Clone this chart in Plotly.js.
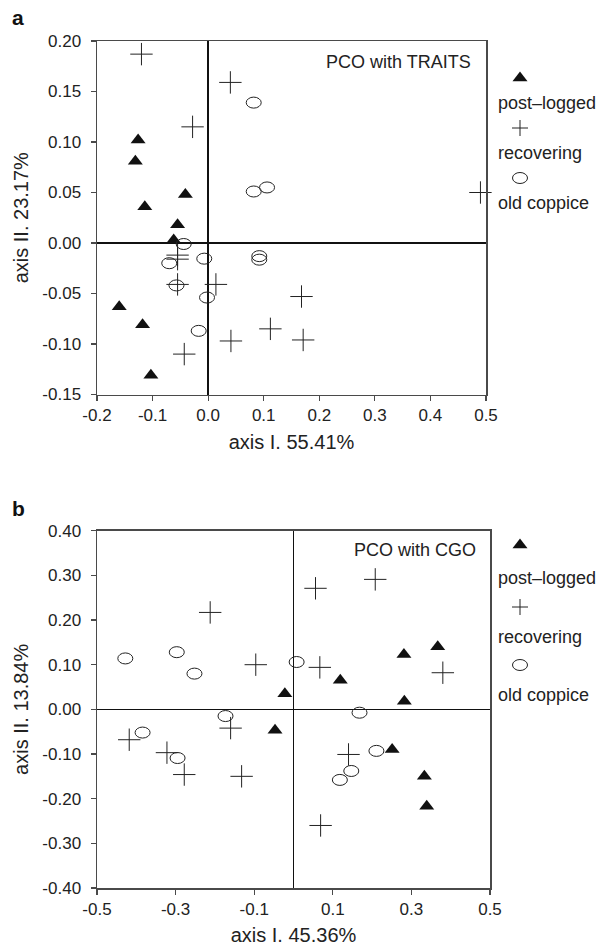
<!DOCTYPE html>
<html>
<head>
<meta charset="utf-8">
<script src="https://cdn.plot.ly/plotly-3.0.1.min.js"></script>
<style>
html,body{margin:0;padding:0;background:#fff;}
#chart{width:612px;height:950px;}
</style>
</head>
<body>
<div id="chart"></div>
<script>
// ---------- Panel a: PCO with TRAITS ----------
const aPostX = [-0.126,-0.131,-0.041,-0.114,-0.055,-0.062,-0.160,-0.118,-0.103];
const aPostY = [0.102,0.081,0.048,0.036,0.018,0.003,-0.063,-0.081,-0.131];
const aRecX  = [-0.120,0.040,-0.028,0.490,-0.055,-0.055,-0.055,0.014,0.112,0.041,-0.043,0.168,0.171];
const aRecY  = [0.187,0.159,0.115,0.050,-0.012,-0.016,-0.041,-0.041,-0.085,-0.097,-0.110,-0.053,-0.096];
const aOldX  = [0.082,0.082,0.106,-0.044,-0.070,-0.007,0.092,0.092,-0.057,-0.002,-0.017];
const aOldY  = [0.139,0.051,0.055,-0.001,-0.020,-0.0155,-0.013,-0.0165,-0.042,-0.054,-0.087];

// ---------- Panel b: PCO with CGO ----------
const bPostX = [-0.022,-0.047,0.119,0.281,0.367,0.282,0.251,0.333,0.339];
const bPostY = [0.035,-0.047,0.065,0.123,0.140,0.018,-0.090,-0.150,-0.217];
const bRecX  = [-0.212,-0.096,-0.160,-0.418,-0.322,-0.278,-0.132,0.056,0.208,0.067,0.380,0.140,0.069];
const bRecY  = [0.217,0.100,-0.042,-0.068,-0.097,-0.146,-0.150,0.271,0.291,0.094,0.082,-0.101,-0.260];
const bOldX  = [-0.428,-0.297,-0.252,0.008,-0.173,-0.384,-0.295,0.168,0.211,0.147,0.118];
const bOldY  = [0.114,0.128,0.080,0.106,-0.015,-0.052,-0.109,-0.0075,-0.093,-0.138,-0.158];

// ---------- ticks ----------
const aXTicks  = [-0.2,-0.1,0.0,0.1,0.2,0.3,0.4,0.5];
const aXLabels = ["-0.2","-0.1","0.0","0.1","0.2","0.3","0.4","0.5"];
const aYTicks  = [-0.15,-0.10,-0.05,0.00,0.05,0.10,0.15,0.20];
const aYLabels = ["-0.15","-0.10","-0.05","0.00","0.05","0.10","0.15","0.20"];
const bXTicks  = [-0.5,-0.3,-0.1,0.1,0.3,0.5];
const bXLabels = ["-0.5","-0.3","-0.1","0.1","0.3","0.5"];
const bYTicks  = [-0.4,-0.3,-0.2,-0.1,0.0,0.1,0.2,0.3,0.4];
const bYLabels = ["-0.40","-0.30","-0.20","-0.10","0.00","0.10","0.20","0.30","0.40"];

const groupNames = ["post\u2013logged","recovering","old coppice"];
const panelTitles = ["PCO with TRAITS","PCO with CGO"];
const axisTitles = {ax:"axis I. 55.41%", ay:"axis II. 23.17%", bx:"axis I. 45.36%", by:"axis II. 13.84%"};

// ---------- layout geometry (pixels) ----------
const W = 612, H = 950;
const M = {l:97, r:122, t:41, b:62};
const PW = W - M.l - M.r, PH = H - M.t - M.b;
const px2x = p => (p - M.l) / PW;
const px2y = p => (H - M.b - p) / PH;

const FONT = "Liberation Sans, Arial, Helvetica, sans-serif";
const INK = "#222";
const FRAME = "#4a4a4a";

const triStyle = {symbol:"triangle-up", size:13, color:"#111", line:{width:0}};
const plusStyle = {symbol:"cross-thin", size:16, color:INK, line:{width:1, color:INK}};

const traces = [
  {type:"scatter", mode:"markers", x:aPostX, y:aPostY, xaxis:"x", yaxis:"y", name:groupNames[0], marker:triStyle, cliponaxis:false},
  {type:"scatter", mode:"markers", x:aRecX, y:aRecY, xaxis:"x", yaxis:"y", name:groupNames[1], marker:plusStyle, cliponaxis:false},
  {type:"scatter", mode:"markers", x:aOldX, y:aOldY, xaxis:"x", yaxis:"y", name:groupNames[2], marker:{symbol:"circle", size:12, color:"rgba(0,0,0,0)"}, hoverinfo:"x+y+name"},
  {type:"scatter", mode:"markers", x:bPostX, y:bPostY, xaxis:"x2", yaxis:"y2", name:groupNames[0], marker:triStyle, cliponaxis:false},
  {type:"scatter", mode:"markers", x:bRecX, y:bRecY, xaxis:"x2", yaxis:"y2", name:groupNames[1], marker:plusStyle, cliponaxis:false},
  {type:"scatter", mode:"markers", x:bOldX, y:bOldY, xaxis:"x2", yaxis:"y2", name:groupNames[2], marker:{symbol:"circle", size:12, color:"rgba(0,0,0,0)"}, hoverinfo:"x+y+name"}
];

// ellipses for old coppice (drawn through data scales, pixel-sized)
const shapes = [];
function addEllipses(xs, ys, xr, yr) {
  xs.forEach((v, i) => {
    shapes.push({type:"circle", xref:xr, yref:yr, xsizemode:"pixel", ysizemode:"pixel",
      xanchor:v, yanchor:ys[i], x0:-7.5, x1:7.5, y0:-5.5, y1:5.5,
      line:{color:INK, width:1}, fillcolor:"rgba(0,0,0,0)", layer:"above"});
  });
}
addEllipses(aOldX, aOldY, "x", "y");
addEllipses(bOldX, bOldY, "x2", "y2");

// custom legends (symbol above label)
const annotations = [];
function addLegend(symX, textX, rows) {
  const ax = px2x(symX);
  shapes.push({type:"path", xref:"paper", yref:"paper", xsizemode:"pixel", ysizemode:"pixel",
    xanchor:ax, yanchor:px2y(rows[0]), path:"M-7.5,-3.25 L7.5,-3.25 L0,6.5 Z",
    fillcolor:"#111", line:{width:0}});
  shapes.push({type:"line", xref:"paper", yref:"paper", xsizemode:"pixel", ysizemode:"pixel",
    xanchor:ax, yanchor:px2y(rows[2]), x0:-8, x1:8, y0:0, y1:0, line:{color:INK, width:1}});
  shapes.push({type:"line", xref:"paper", yref:"paper", xsizemode:"pixel", ysizemode:"pixel",
    xanchor:ax, yanchor:px2y(rows[2]), x0:0, x1:0, y0:-8, y1:8, line:{color:INK, width:1}});
  shapes.push({type:"circle", xref:"paper", yref:"paper", xsizemode:"pixel", ysizemode:"pixel",
    xanchor:ax, yanchor:px2y(rows[4]), x0:-7.5, x1:7.5, y0:-5.5, y1:5.5,
    line:{color:INK, width:1}, fillcolor:"rgba(0,0,0,0)"});
  [1,3,5].forEach((r, k) => {
    annotations.push({xref:"paper", yref:"paper", x:px2x(textX), y:px2y(rows[r]),
      xanchor:"left", yanchor:"middle", showarrow:false, text:groupNames[k],
      font:{family:FONT, size:18, color:INK}});
  });
}
addLegend(520, 496, [78,103,128,153,178,203]);
addLegend(520, 496, [545,578,607,637,665,695]);

// panel titles inside plots
annotations.push({xref:"paper", yref:"paper", x:px2x(473), y:px2y(62), xanchor:"right", yanchor:"middle",
  showarrow:false, text:panelTitles[0], font:{family:FONT, size:18, color:INK}});
annotations.push({xref:"paper", yref:"paper", x:px2x(478), y:px2y(550), xanchor:"right", yanchor:"middle",
  showarrow:false, text:panelTitles[1], font:{family:FONT, size:18, color:INK}});
// panel letters
annotations.push({xref:"paper", yref:"paper", x:px2x(10), y:px2y(17), xanchor:"left", yanchor:"middle",
  showarrow:false, text:"<b>a</b>", font:{family:FONT, size:21, color:"#111"}});
annotations.push({xref:"paper", yref:"paper", x:px2x(10), y:px2y(508), xanchor:"left", yanchor:"middle",
  showarrow:false, text:"<b>b</b>", font:{family:FONT, size:21, color:"#111"}});

function axisBase() {
  return {
    showline:true, linecolor:FRAME, linewidth:1.5, mirror:true,
    showgrid:false, zeroline:true, zerolinecolor:"#111", zerolinewidth:1.3,
    ticks:"outside", ticklen:5, tickwidth:1.2, tickcolor:FRAME,
    tickfont:{family:FONT, size:17, color:INK}, tickmode:"array"
  };
}
const yTopA = 1, yBotA = px2y(394.5), yTopB = px2y(530.7), yBotB = 0;

const layout = {
  width:W, height:H, margin:M, showlegend:false,
  paper_bgcolor:"#fff", plot_bgcolor:"rgba(0,0,0,0)",
  font:{family:FONT, color:INK},
  xaxis:Object.assign(axisBase(), {domain:[0, px2x(486)], anchor:"y", range:[-0.2,0.5],
    tickvals:aXTicks, ticktext:aXLabels,
    title:{text:axisTitles.ax, font:{family:FONT, size:20, color:INK}, standoff:10}}),
  yaxis:Object.assign(axisBase(), {domain:[yBotA, yTopA], anchor:"x", range:[-0.15,0.20],
    tickvals:aYTicks, ticktext:aYLabels, ticklabelstandoff:6,
    title:{text:axisTitles.ay, font:{family:FONT, size:20, color:INK}, standoff:8}}),
  xaxis2:Object.assign(axisBase(), {domain:[0, 1], anchor:"y2", range:[-0.5,0.5],
    tickvals:bXTicks, ticktext:bXLabels,
    title:{text:axisTitles.bx, font:{family:FONT, size:20, color:INK}, standoff:10}}),
  yaxis2:Object.assign(axisBase(), {domain:[yBotB, yTopB], anchor:"x2", range:[-0.4,0.4],
    tickvals:bYTicks, ticktext:bYLabels, ticklabelstandoff:6,
    title:{text:axisTitles.by, font:{family:FONT, size:20, color:INK}, standoff:8}}),
  shapes:shapes,
  annotations:annotations
};

Plotly.newPlot("chart", traces, layout, {displayModeBar:false, staticPlot:true});
</script>
</body>
</html>
